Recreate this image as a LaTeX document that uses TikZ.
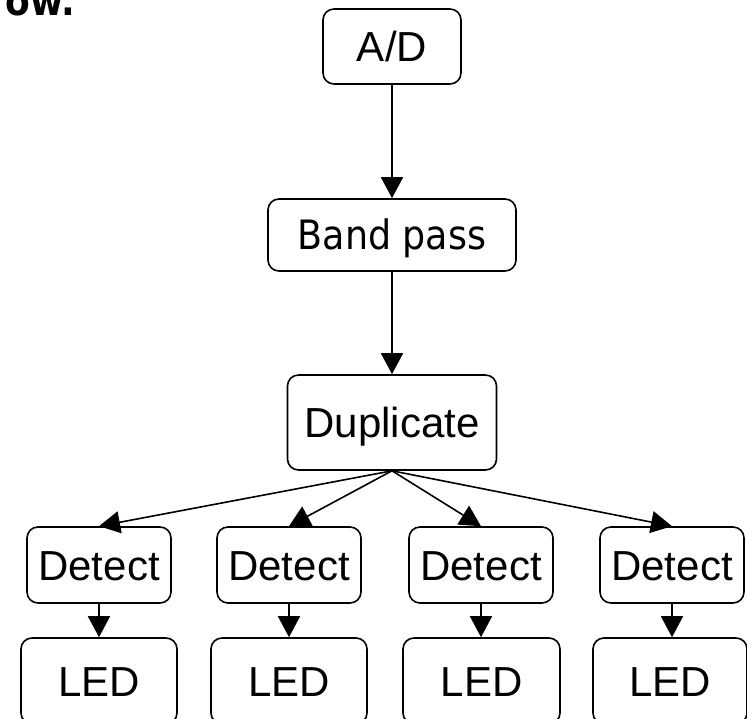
\documentclass[tikz,border=0pt]{standalone}
\usepackage{fontspec}
\setmainfont{Liberation Sans}
\newfontfamily\tahomalike{DejaVu Sans Condensed}
\usetikzlibrary{arrows.meta}
\begin{document}
\begin{tikzpicture}[x=1pt,y=-1pt,
  blk/.style={draw,line width=1.6pt,rounded corners=11pt,inner sep=0pt,
    text height=30pt,text depth=0pt,font=\fontsize{42}{48}\selectfont},
  arr/.style={line width=1.6pt,-{Triangle[length=21pt,width=22pt]}}]
\useasboundingbox (0,0) rectangle (747,719);
\clip (0,0) rectangle (747,719);
\node[anchor=base east,inner sep=0pt,font=\tahomalike\bfseries\fontsize{40}{48}\selectfont] (hdr) at (75,16) {ow.};
\node[blk,minimum width=138pt,minimum height=75pt] (ad) at (392,46.5) {A/D};
\node[blk,minimum width=248pt,minimum height=72pt,font=\tahomalike\fontsize{40.5}{48}\selectfont] (bp) at (392,235) {Band pass};
\node[blk,minimum width=209pt,minimum height=95pt] (dup) at (392,422.5) {Duplicate};
\foreach \i/\x/\lx/\lw in {1/99/99/156,2/289/289/156,3/481/481.5/157,4/672/670/154}{
  \node[blk,minimum width=144pt,minimum height=76pt] (det\i) at (\x,565) {Detect};
  \node[blk,minimum width=\lw pt,minimum height=86pt] (led\i) at (\lx,681) {LED};
  \draw[arr] (det\i.south) -- (det\i.south |- led\i.north);
  \draw[arr] (dup.south) -- (det\i.north);
}
\draw[arr] (ad) -- (bp);
\draw[arr] (bp) -- (dup);
\end{tikzpicture}
\end{document}
